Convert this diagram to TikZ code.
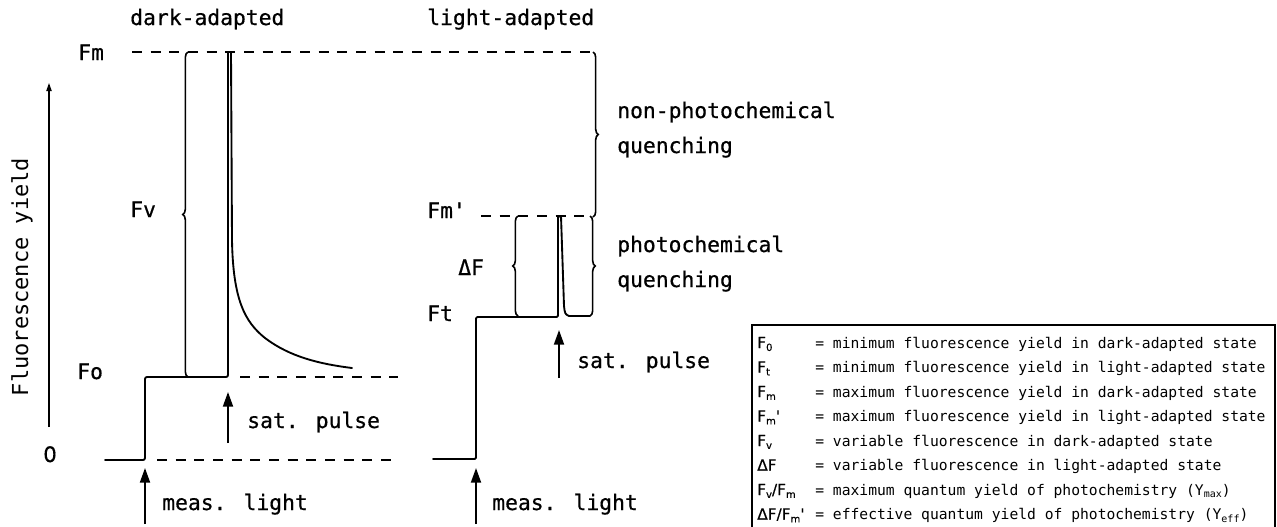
\documentclass[tikz,border=0pt]{standalone}
\usepackage{fontspec}
\usetikzlibrary{arrows.meta,decorations.pathreplacing}
\newfontfamily\lblfont{DejaVu Sans Mono}[FakeBold=0.6]
\newfontfamily\axfont{DejaVu Sans Mono}
\newfontfamily\symfont{DejaVu Sans}[FakeBold=0.4]
\newcommand{\lsub}[1]{\raisebox{-0.35ex}{\fontsize{7.5}{8}\selectfont #1}}
\begin{document}
\begin{tikzpicture}[x=0.75pt,y=-0.75pt,
  lbl/.style={font=\lblfont\fontsize{16}{18}\selectfont, inner sep=0pt, anchor=base west},
  trace/.style={line width=1.4pt, line join=round, line cap=round},
  refline/.style={line width=1.6pt, dash pattern=on 7.5pt off 6.5pt},
  pulsearrow/.style={-{Triangle[length=11pt,width=7.5pt]}, line width=1.4pt},
  fbrace/.style={decorate, decoration={brace, amplitude=4pt}, line width=1.2pt},
  legtext/.style={font=\axfont\fontsize{11}{13}\selectfont, anchor=base west, inner sep=0pt},
  legsym/.style={font=\symfont\fontsize{11.5}{14}\selectfont, anchor=base west, inner sep=0pt}
]
\useasboundingbox (0,0) rectangle (1277,526);

% headings
\node[lbl] (hdark) at (130,25) {dark-adapted};
\node[lbl] (hlight) at (427,25) {light-adapted};

% axis
\coordinate (ax0) at (49,427);
\coordinate (ax1) at (49,83);
\draw[line width=0.8pt, -{Triangle[length=6pt,width=4pt]}] (ax0) -- (ax1);
\node[font=\axfont\fontsize{16.5}{18}\selectfont, inner sep=0pt, rotate=90] (ylab) at (22,277) {Fluorescence yield};

% level labels
\node[lbl] (lFm) at (78,60) {Fm};
\node[lbl] (lFv) at (130,217) {Fv};
\node[lbl] (lFo) at (77,379) {Fo};
\node[lbl, font=\symfont\fontsize{16}{18}\selectfont] (lzero) at (43,462) {0};
\node[lbl] (lFmp) at (427,218) {Fm\textquotesingle};
\node[lbl] (ldF) at (458,275) {ΔF};
\node[lbl] (lFt) at (427,321) {Ft};

% dashed reference lines
\coordinate (fmA) at (132,52);  \coordinate (fmB) at (593,52);
\coordinate (foA) at (240,377); \coordinate (foB) at (398,377);
\coordinate (zA) at (157,460);  \coordinate (zB) at (398,460);
\coordinate (fmpA) at (481,216); \coordinate (fmpB) at (588,216);
\draw[refline] (fmA) -- (fmB);
\draw[refline] (foA) -- (foB);
\draw[refline] (zA) -- (zB);
\draw[refline] (fmpA) -- (fmpB);

% dark-adapted trace
\coordinate (d0) at (105,460);
\coordinate (d1) at (145,460);
\coordinate (d2) at (145,377);
\coordinate (d3) at (228,377);
\coordinate (d4) at (228,52);
\draw[trace, rounded corners=1.5pt] (d0) -- (d1) -- (d2) -- (d3) -- (d4);
\coordinate (e0) at (231,52);
\coordinate (e1) at (232,240);
\coordinate (e2) at (265,338);
\coordinate (e3) at (352,368);
\draw[trace] (e0) -- (e1) .. controls (233,300) and (245,322) .. (e2)
  .. controls (290,357) and (320,364) .. (e3);

% Fv brace
\coordinate (fvB) at (188,377);
\coordinate (fvT) at (188,52);
\draw[fbrace] (fvB) -- (fvT);

% dark arrows
\coordinate (sp1a) at (228,443); \coordinate (sp1b) at (228,392);
\coordinate (ml1a) at (145,524); \coordinate (ml1b) at (145,468);
\draw[pulsearrow] (sp1a) -- (sp1b);
\draw[pulsearrow] (ml1a) -- (ml1b);
\node[lbl] (sp1) at (247,428) {sat. pulse};
\node[lbl] (ml1) at (162,510) {meas. light};

% light-adapted trace
\coordinate (t0) at (433,459);
\coordinate (t1) at (476,459);
\coordinate (t2) at (476,317);
\coordinate (t3) at (558,317);
\coordinate (t4) at (558,216);
\coordinate (t5) at (561,216);
\coordinate (t6) at (564,306);
\coordinate (t7) at (569,316);
\coordinate (t8) at (590,316);
\draw[trace, rounded corners=1pt] (t0) -- (t1) -- (t2) -- (t3) -- (t4) -- (t5) -- (t6);
\draw[trace] (t6) .. controls (565,314) .. (t7) -- (t8);

% braces light
\coordinate (npT) at (593,52);  \coordinate (npB) at (593,217);
\draw[fbrace] (npT) -- (npB);
\coordinate (pcT) at (590,216); \coordinate (pcB) at (590,316);
\draw[fbrace] (pcT) -- (pcB);
\coordinate (dfB) at (518,316); \coordinate (dfT) at (518,216);
\draw[fbrace] (dfB) -- (dfT);

% light arrows
\coordinate (sp2a) at (559,378); \coordinate (sp2b) at (559,330);
\coordinate (ml2a) at (476,524); \coordinate (ml2b) at (476,468);
\draw[pulsearrow] (sp2a) -- (sp2b);
\draw[pulsearrow] (ml2a) -- (ml2b);
\node[lbl] (sp2) at (577,368) {sat. pulse};
\node[lbl] (ml2) at (492,510) {meas. light};

% quenching labels
\node[lbl] (npq1) at (617,118) {non-photochemical};
\node[lbl] (npq2) at (617,153) {quenching};
\node[lbl] (pq1) at (617,252) {photochemical};
\node[lbl] (pq2) at (617,287) {quenching};

% legend
\coordinate (legA) at (752,325);
\coordinate (legB) at (1275,545);
\draw[line width=1.2pt] (legA) rectangle (legB);
\node[legsym] (s0) at (757,348) {F\lsub{0}};
\node[legsym] (s1) at (757,372.5) {F\lsub{t}};
\node[legsym] (s2) at (757,397) {F\lsub{m}};
\node[legsym] (s3) at (757,421.5) {F\lsub{m}\textquotesingle};
\node[legsym] (s4) at (757,446) {F\lsub{v}};
\node[legsym] (s5) at (757,470.5) {ΔF};
\node[legsym] (s6) at (757,495) {F\lsub{v}/F\lsub{m}};
\node[legsym] (s7) at (757,519.5) {ΔF/F\lsub{m}\textquotesingle};
\node[legtext] (g0) at (815,348) {= minimum fluorescence yield in dark-adapted state};
\node[legtext] (g1) at (815,372.5) {= minimum fluorescence yield in light-adapted state};
\node[legtext] (g2) at (815,397) {= maximum fluorescence yield in dark-adapted state};
\node[legtext] (g3) at (815,421.5) {= maximum fluorescence yield in light-adapted state};
\node[legtext] (g4) at (815,446) {= variable fluorescence in dark-adapted state};
\node[legtext] (g5) at (815,470.5) {= variable fluorescence in light-adapted state};
\node[legtext] (g6) at (815,495) {= maximum quantum yield of photochemistry (Y\lsub{max})};
\node[legtext] (g7) at (815,519.5) {= effective quantum yield of photochemistry (Y\lsub{eff})};
\end{tikzpicture}
\end{document}
